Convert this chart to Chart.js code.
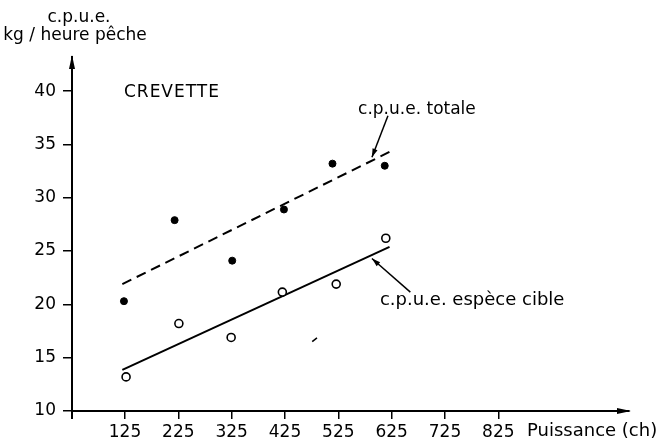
<!DOCTYPE html>
<html>
<head>
<meta charset="utf-8">
<script src="https://cdn.jsdelivr.net/npm/chart.js@4/dist/chart.umd.min.js"></script>
<style>
  html, body { margin: 0; padding: 0; background: #fff; }
  canvas { display: block; }
</style>
</head>
<body>
<canvas id="chart" width="659" height="443"></canvas>
<script>
// Puissance (ch) vs c.p.u.e. (kg / heure pêche) - crevette
const xTicks = [125, 225, 325, 425, 525, 625, 725, 825];
const yTicks = [10, 15, 20, 25, 30, 35, 40];

// c.p.u.e. totale (points pleins)
const totalX = [123, 218, 326, 423, 514, 612];
const totalY = [20.3, 27.9, 24.1, 28.9, 33.2, 33.0];

// c.p.u.e. espèce cible (points vides)
const cibleX = [127, 226, 324, 420, 521, 614];
const cibleY = [13.2, 18.2, 16.9, 21.15, 21.9, 26.2];

// droites d'ajustement
const totalFitX = [120, 621];
const totalFitY = [21.9, 34.3];
const cibleFitX = [120, 621];
const cibleFitY = [13.85, 25.4];

// petit trait parasite du document
const strayX = [476, 485];
const strayY = [16.5, 16.85];

const toPoints = (xs, ys) => xs.map((x, i) => ({ x: x, y: ys[i] }));

const FONT = '"DejaVu Sans", sans-serif';

const decor = {
  id: 'decor',
  afterDraw(chart) {
    const ctx = chart.ctx;
    const xs = chart.scales.x, ys = chart.scales.y;
    const area = chart.chartArea;
    const px = v => xs.getPixelForValue(v);
    const py = v => ys.getPixelForValue(v);

    ctx.save();
    ctx.strokeStyle = '#000';
    ctx.fillStyle = '#000';

    // axis overhang below the origin
    ctx.lineWidth = 2;
    ctx.beginPath();
    ctx.moveTo(area.left, area.bottom);
    ctx.lineTo(area.left, area.bottom + 8);
    ctx.stroke();

    // arrowheads
    ctx.beginPath();
    ctx.moveTo(area.left, area.top - 2);
    ctx.lineTo(area.left - 3, area.top + 12);
    ctx.lineTo(area.left + 3, area.top + 12);
    ctx.closePath();
    ctx.fill();
    ctx.beginPath();
    ctx.moveTo(area.right + 2, area.bottom);
    ctx.lineTo(area.right - 12, area.bottom - 3);
    ctx.lineTo(area.right - 12, area.bottom + 3);
    ctx.closePath();
    ctx.fill();

    // annotation arrows
    const arrow = (x1, y1, x2, y2) => {
      ctx.lineWidth = 1.5;
      ctx.beginPath();
      ctx.moveTo(x1, y1);
      ctx.lineTo(x2, y2);
      ctx.stroke();
      const a = Math.atan2(y2 - y1, x2 - x1);
      ctx.beginPath();
      ctx.moveTo(x2, y2);
      ctx.lineTo(x2 - 9 * Math.cos(a - 0.3), y2 - 9 * Math.sin(a - 0.3));
      ctx.lineTo(x2 - 9 * Math.cos(a + 0.3), y2 - 9 * Math.sin(a + 0.3));
      ctx.closePath();
      ctx.fill();
    };
    arrow(px(618), py(37.7), px(588), py(33.8));
    arrow(px(660), py(21.15), px(588), py(24.3));

    // texts
    ctx.textBaseline = 'middle';
    ctx.font = '17px ' + FONT;
    ctx.textAlign = 'center';
    ctx.fillText('c.p.u.e.', 79, 18);
    ctx.fillText('kg / heure pêche', 75, 36);

    ctx.textAlign = 'left';
    ctx.letterSpacing = '1px';
    ctx.fillText('CREVETTE', px(123), py(39.9));
    ctx.letterSpacing = '0px';

    ctx.fillText('c.p.u.e. totale', px(562), py(38.3));
    ctx.font = '18px ' + FONT;
    ctx.fillText('c.p.u.e. espèce cible', px(603), py(20.4));
    ctx.fillText('Puissance (ch)', 527, 431);
    ctx.restore();
  }
};

new Chart(document.getElementById('chart'), {
  type: 'scatter',
  data: {
    datasets: [
      {
        label: 'c.p.u.e. totale',
        data: toPoints(totalX, totalY),
        pointRadius: 3.5,
        pointBackgroundColor: '#000',
        pointBorderColor: '#000',
        pointBorderWidth: 1
      },
      {
        label: 'c.p.u.e. espèce cible',
        data: toPoints(cibleX, cibleY),
        pointRadius: 4,
        pointBackgroundColor: '#fff',
        pointBorderColor: '#000',
        pointBorderWidth: 1.6
      },
      {
        label: 'ajustement totale',
        data: toPoints(totalFitX, totalFitY),
        showLine: true,
        borderColor: '#000',
        borderWidth: 2,
        borderDash: [10, 6],
        pointRadius: 0
      },
      {
        label: 'ajustement cible',
        data: toPoints(cibleFitX, cibleFitY),
        showLine: true,
        borderColor: '#000',
        borderWidth: 2,
        pointRadius: 0
      },
      {
        label: 'trait',
        data: toPoints(strayX, strayY),
        showLine: true,
        borderColor: '#000',
        borderWidth: 1.5,
        pointRadius: 0
      }
    ]
  },
  options: {
    responsive: false,
    animation: false,
    layout: { padding: { top: 57, right: 30, left: 0, bottom: 0 } },
    plugins: {
      legend: { display: false },
      tooltip: { enabled: false }
    },
    scales: {
      x: {
        type: 'linear',
        min: 25.6,
        max: 1070,
        afterBuildTicks: s => { s.ticks = xTicks.map(v => ({ value: v })); },
        afterFit: s => { s.height = 32; },
        grid: { drawOnChartArea: false, drawTicks: true, tickLength: 8, color: '#000', lineWidth: 1.5 },
        border: { display: true, color: '#000', width: 2 },
        ticks: { color: '#000', font: { family: FONT, size: 17 }, padding: 3, maxRotation: 0 }
      },
      y: {
        min: 10,
        max: 43.2,
        afterBuildTicks: s => { s.ticks = yTicks.map(v => ({ value: v })); },
        afterFit: s => { s.width = 72; },
        grid: { drawOnChartArea: false, drawTicks: true, tickLength: 9, color: '#000', lineWidth: 1.5 },
        border: { display: true, color: '#000', width: 2 },
        ticks: { color: '#000', font: { family: FONT, size: 17 }, padding: 7 }
      }
    }
  },
  plugins: [decor]
});
</script>
</body>
</html>
